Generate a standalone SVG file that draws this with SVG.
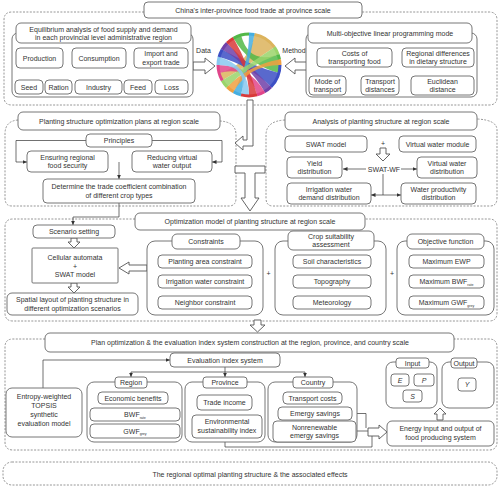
<svg xmlns="http://www.w3.org/2000/svg" width="499" height="486" viewBox="0 0 499 486">
<defs>
<style>
.b{fill:#fff;stroke:#666;stroke-width:0.9}
.d{fill:none;stroke:#8a8a8a;stroke-width:0.9;stroke-dasharray:2 1.4}
.l{fill:none;stroke:#333;stroke-width:0.7}
.h{fill:#fff;stroke:#555;stroke-width:0.9;stroke-linejoin:round}
text{font-family:"Liberation Sans",Arial,sans-serif;font-size:7px;fill:#333;text-anchor:middle}
.sub{font-size:3.6px}
.it{font-style:italic}
.ch{fill-opacity:0.85;stroke:none}
.rg{fill:none;stroke-width:3}
</style>
<marker id="ah" markerWidth="6" markerHeight="6" refX="4.5" refY="3" orient="auto" markerUnits="userSpaceOnUse"><path d="M0,0.9 L4.5,3 L0,5.1Z" fill="#333"/></marker>
</defs>
<rect width="499" height="486" fill="#fff"/>

<!-- dashed regions -->
<g id="regions">
<path class="d" d="M144,12 H12 Q4,12 4,20 V97 Q4,105 12,105 H489 Q497,105 497,97 V20 Q497,12 489,12 H362"/>
<path class="d" d="M18,120 Q5,121 5,134 V198 Q5,206 12,206 H229 Q236,206 236,198 V135 Q236,122 220,121"/>
<path class="d" d="M285,120 Q266,121 266,135 V198 Q266,206 273,206 H490 Q497,206 497,198 V130 Q497,120 477,119"/>
<path class="d" d="M135,219 H13 Q5,219 5,227 V313 Q5,321 13,321 H489 Q497,321 497,313 V227 Q497,219 489,219 H365"/>
<path class="d" d="M45,339 H13 Q5,339 5,347 V442 Q5,450 13,450 H489 Q497,450 497,442 V347 Q497,339 489,339 H454"/>
<rect class="d" x="3" y="462" width="494" height="23" rx="9"/>
</g>

<!-- connectors -->
<g id="connectors">
<path class="l" d="M99,68 V76 M29,76 H172"/>
<path class="l" marker-end="url(#ah)" d="M29,76 V80"/>
<path class="l" marker-end="url(#ah)" d="M59,76 V80"/>
<path class="l" marker-end="url(#ah)" d="M99,76 V80"/>
<path class="l" marker-end="url(#ah)" d="M138,76 V80"/>
<path class="l" marker-end="url(#ah)" d="M172,76 V80"/>
<path class="l" d="M354,67 V71 M328,71 H380"/>
<path class="l" marker-end="url(#ah)" d="M328,71 V76"/>
<path class="l" marker-end="url(#ah)" d="M380,71 V76"/>
<path class="l" marker-end="url(#ah)" d="M440,67 V76"/>
<path class="h" d="M193,62 H205 V58 L215,66 L205,74 V70 H193Z"/>
<path class="h" d="M307,62 H295 V58 L285,66 L295,74 V70 H307Z"/>
<path class="h" d="M247,100 H253 V146 H243 V150 L235,143 L243,136 V140 H247Z"/>
<path class="h" d="M235,166 H265 V173 H255 V198 H259 L250,211 L241,198 H245 V173 H235Z"/>
<path class="l" marker-end="url(#ah)" d="M86,140.5 H16 V162 H27"/>
<path class="l" marker-end="url(#ah)" d="M152,140.5 H222 V162 H212"/>
<path class="l" marker-end="url(#ah)" d="M119,162 V179"/>
<path class="l" marker-end="url(#ah)" d="M119,203 V217 H73 V225"/>
<path class="h" d="M380,148 H386 V154 H390 L383,161 L376,154 H380Z"/>
<path class="l" marker-end="url(#ah)" d="M366,169 H343"/>
<path class="l" marker-end="url(#ah)" d="M401,169 H417"/>
<path class="l" d="M383,174 V195"/>
<path class="l" marker-end="url(#ah)" d="M383,195 H371"/>
<path class="l" marker-end="url(#ah)" d="M383,195 H401"/>
<path class="h" d="M71,238 H77 V242 H80 L74,248 L68,242 H71Z"/>
<path class="h" d="M71,283 H77 V287 H80 L74,293 L68,287 H71Z"/>
<path class="h" d="M147,265 H129 V262 L119,268 L129,274 V271 H147Z"/>
<path class="h" d="M254,320 H261 V325 H265 L257.5,332 L250,325 H254Z"/>
<path class="l" marker-end="url(#ah)" d="M43,388 V360 H170"/>
<path class="l" marker-end="url(#ah)" d="M225,367 V377"/>
<path class="l" d="M131,372 H305"/>
<path class="l" marker-end="url(#ah)" d="M131,372 V377"/>
<path class="l" marker-end="url(#ah)" d="M305,372 V377"/>
<path class="l" d="M352,413.5 H366 V428 M356,431 H368 M225,438 V447 H372 V436"/>
<path class="h" d="M368,428 H379 V425 L387,432 L379,439 V436 H368Z"/>
<path class="h" d="M437,420 H443 V414 H446 L440,408 L434,414 H437Z"/>
</g>

<g id="title"><rect class="b" x="144" y="2" width="218" height="16" rx="4"/><text x="253" y="12.5">China's inter-province food trade at province scale</text></g>

<g id="equilibrium">
<rect class="b" x="12" y="33" width="181" height="64" rx="6"/>
<rect class="b" x="16" y="23" width="175" height="20" rx="5"/>
<text x="103.5" y="31.5">Equilibrium analysis of food supply and demand</text>
<text x="103.5" y="40">in each provincial level administrative region</text>
</g>
<g id="production"><rect class="b" x="16" y="48" width="47" height="20" rx="4"/><text x="39.5" y="60.5">Production</text></g>
<g id="consumption"><rect class="b" x="72" y="48" width="54" height="20" rx="4"/><text x="99" y="60.5">Consumption</text></g>
<g id="import"><rect class="b" x="134" y="48" width="54" height="20" rx="4"/><text x="161" y="56">Import and</text><text x="161" y="64.5">export trade</text></g>
<g id="seed"><rect class="b" x="15" y="80" width="28" height="14" rx="4"/><text x="29" y="89.5">Seed</text></g>
<g id="ration"><rect class="b" x="45" y="80" width="27" height="14" rx="4"/><text x="58.5" y="89.5">Ration</text></g>
<g id="industry"><rect class="b" x="75" y="80" width="47" height="14" rx="4"/><text x="98.5" y="89.5">Industry</text></g>
<g id="feed"><rect class="b" x="124" y="80" width="28" height="14" rx="4"/><text x="138" y="89.5">Feed</text></g>
<g id="loss"><rect class="b" x="155" y="80" width="33" height="14" rx="4"/><text x="171.5" y="89.5">Loss</text></g>

<g id="chord">
<circle cx="249" cy="65" r="31" fill="#fff" stroke="#ccc" stroke-width="0.5"/>
<path class="ch" fill="#dcb35c" d="M254.4,34.5 A31,31 0 0 1 274.4,47.2 Q249,65 222.2,80.5 A31,31 0 0 1 219.1,73 Q249,65 254.4,34.5Z"/>
<path class="ch" fill="#52b848" d="M278.1,54.4 A31,31 0 0 1 278.9,73 Q249,65 233.5,38.2 A31,31 0 0 1 241,35.1 Q249,65 278.1,54.4Z"/>
<path class="ch" fill="#3c4fc4" d="M278.9,73 A31,31 0 0 1 270.9,86.9 Q249,65 219.1,57 A31,31 0 0 1 222.2,49.5 Q249,65 278.9,73Z"/>
<path class="ch" fill="#7040a8" d="M270.9,86.9 A31,31 0 0 1 264.5,91.8 Q249,65 222.2,49.5 A31,31 0 0 1 227.1,43.1 Q249,65 270.9,86.9Z"/>
<path class="ch" fill="#e0458a" d="M264.5,91.8 A31,31 0 0 1 257,94.9 Q249,65 219.1,73 A31,31 0 0 1 218,65 Q249,65 264.5,91.8Z"/>
<path class="ch" fill="#d83a3a" d="M257,94.9 A31,31 0 0 1 249,96 Q249,65 227.1,43.1 A31,31 0 0 1 233.5,38.2 Q249,65 257,94.9Z"/>
<path class="ch" fill="#45aee0" d="M241,94.9 A31,31 0 0 1 233.5,91.8 Q249,65 249,34 A31,31 0 0 1 254.4,34.5 Q249,65 241,94.9Z"/>
<path class="ch" fill="#f0a040" d="M233.5,91.8 A31,31 0 0 1 227.1,86.9 Q249,65 279.5,59.6 A31,31 0 0 1 280,65 Q249,65 233.5,91.8Z"/>
<path class="ch" fill="#9ad46a" d="M227.1,86.9 A31,31 0 0 1 222.2,80.5 Q249,65 274.4,47.2 A31,31 0 0 1 278.1,54.4 Q249,65 227.1,86.9Z"/>
<path class="ch" fill="#88c8f0" d="M218,65 A31,31 0 0 1 219.1,57 Q249,65 249,96 A31,31 0 0 1 241,94.9 Q249,65 218,65Z"/>
<path class="rg" stroke="#dcb35c" d="M254.4,34.5 A31,31 0 0 1 274.4,47.2"/>
<path class="rg" stroke="#9ad46a" d="M274.4,47.2 A31,31 0 0 1 278.1,54.4"/>
<path class="rg" stroke="#52b848" d="M278.1,54.4 A31,31 0 0 1 279.5,59.6"/>
<path class="rg" stroke="#f0a040" d="M279.5,59.6 A31,31 0 0 1 280,65"/>
<path class="rg" stroke="#3c4fc4" d="M280,65 A31,31 0 0 1 270.9,86.9"/>
<path class="rg" stroke="#7040a8" d="M270.9,86.9 A31,31 0 0 1 264.5,91.8"/>
<path class="rg" stroke="#e0458a" d="M264.5,91.8 A31,31 0 0 1 257,94.9"/>
<path class="rg" stroke="#d83a3a" d="M257,94.9 A31,31 0 0 1 241,94.9"/>
<path class="rg" stroke="#45aee0" d="M241,94.9 A31,31 0 0 1 233.5,91.8"/>
<path class="rg" stroke="#f0a040" d="M233.5,91.8 A31,31 0 0 1 227.1,86.9"/>
<path class="rg" stroke="#9ad46a" d="M227.1,86.9 A31,31 0 0 1 222.2,80.5"/>
<path class="rg" stroke="#e0458a" d="M222.2,80.5 A31,31 0 0 1 218,65"/>
<path class="rg" stroke="#88c8f0" d="M218,65 A31,31 0 0 1 219.1,57"/>
<path class="rg" stroke="#3c4fc4" d="M219.1,57 A31,31 0 0 1 222.2,49.5"/>
<path class="rg" stroke="#7040a8" d="M222.2,49.5 A31,31 0 0 1 227.1,43.1"/>
<path class="rg" stroke="#d83a3a" d="M227.1,43.1 A31,31 0 0 1 233.5,38.2"/>
<path class="rg" stroke="#52b848" d="M233.5,38.2 A31,31 0 0 1 249,34"/>
<path class="rg" stroke="#45aee0" d="M249,34 A31,31 0 0 1 254.4,34.5"/>
</g>
<g id="data"><text x="203.5" y="53">Data</text></g>
<g id="method"><text x="294" y="53">Method</text></g>

<g id="multiobjective">
<rect class="b" x="306" y="33" width="171" height="64" rx="6"/>
<rect class="b" x="308" y="23" width="164" height="20" rx="5"/>
<text x="390" y="35.5">Multi-objective linear programming mode</text>
</g>
<g id="costs"><rect class="b" x="317" y="48" width="75" height="19" rx="4"/><text x="354.5" y="55.5">Costs of</text><text x="354.5" y="64">transporting food</text></g>
<g id="regional"><rect class="b" x="402" y="48" width="72" height="19" rx="4"/><text x="438" y="55.5">Regional differences</text><text x="438" y="64">in dietary structure</text></g>
<g id="mode"><rect class="b" x="309" y="76" width="37" height="19" rx="4"/><text x="327.5" y="83.5">Mode of</text><text x="327.5" y="92">transport</text></g>
<g id="distances"><rect class="b" x="361" y="76" width="38" height="19" rx="4"/><text x="380" y="83.5">Transport</text><text x="380" y="92">distances</text></g>
<g id="euclidean"><rect class="b" x="411" y="76" width="63" height="19" rx="4"/><text x="442.5" y="83.5">Euclidean</text><text x="442.5" y="92">distance</text></g>

<g id="plans"><rect class="b" x="18" y="112" width="202" height="18" rx="5"/><text x="119" y="123.5">Planting structure optimization plans at region scale</text></g>
<g id="principles"><rect class="b" x="86" y="134" width="66" height="13" rx="4"/><text x="119" y="143">Principles</text></g>
<g id="ensuring"><rect class="b" x="27" y="151" width="81" height="21" rx="4"/><text x="67.5" y="159.5">Ensuring regional</text><text x="67.5" y="168">food security</text></g>
<g id="reducing"><rect class="b" x="132" y="151" width="80" height="21" rx="4"/><text x="172" y="159.5">Reducing virtual</text><text x="172" y="168">water output</text></g>
<g id="determine"><rect class="b" x="43" y="179" width="152" height="24" rx="4"/><text x="119" y="188.5">Determine the trade coefficient combination</text><text x="119" y="197.5">of different crop types</text></g>

<g id="analysis"><rect class="b" x="285" y="112" width="192" height="18" rx="5"/><text x="381" y="123.5">Analysis of planting structure at region scale</text></g>
<g id="swat"><rect class="b" x="285" y="136" width="82" height="16" rx="4"/><text x="326" y="146.5">SWAT model</text></g>
<g id="plus1"><text x="383" y="146">+</text></g>
<g id="vwmodule"><rect class="b" x="399" y="136" width="77" height="16" rx="4"/><text x="437.5" y="146.5">Virtual water module</text></g>
<g id="swatwf"><text x="384" y="171.5">SWAT-WF</text></g>
<g id="yield"><rect class="b" x="287" y="157" width="55" height="21" rx="4"/><text x="314.5" y="165.5">Yield</text><text x="314.5" y="174">distribution</text></g>
<g id="vwdist"><rect class="b" x="417" y="157" width="60" height="21" rx="4"/><text x="447" y="165.5">Virtual water</text><text x="447" y="174">distribution</text></g>
<g id="irrigation"><rect class="b" x="287" y="183" width="84" height="21" rx="4"/><text x="329" y="191.5">Irrigation water</text><text x="329" y="200">demand distribution</text></g>
<g id="productivity"><rect class="b" x="401" y="183" width="75" height="21" rx="4"/><text x="438.5" y="191.5">Water productivity</text><text x="438.5" y="200">distribution</text></g>

<g id="optimization"><rect class="b" x="135" y="213" width="230" height="17" rx="5"/><text x="250" y="224">Optimization model of planting structure at region scale</text></g>
<g id="scenario"><rect class="b" x="33" y="225" width="82" height="13" rx="4"/><text x="74" y="234">Scenario setting</text></g>
<g id="cellular"><rect class="b" x="32" y="248" width="86" height="35" rx="1"/><text x="75" y="260">Cellular automata</text><text x="75" y="268.5">+</text><text x="75" y="277">SWAT model</text></g>
<g id="spatial"><rect class="b" x="7" y="293" width="131" height="22" rx="5"/><text x="72.5" y="302">Spatial layout of planting structure in</text><text x="72.5" y="310.5">different optimization scenarios</text></g>

<g id="constraints">
<rect class="b" x="147" y="241" width="116" height="74" rx="8"/>
<rect class="b" x="172" y="234" width="68" height="15" rx="5"/><text x="206" y="244">Constraints</text>
</g>
<g id="c1"><rect class="b" x="158" y="255" width="94" height="13" rx="4"/><text x="205" y="264">Planting area constraint</text></g>
<g id="c2"><rect class="b" x="158" y="275" width="94" height="13" rx="4"/><text x="205" y="284">Irrigation water constraint</text></g>
<g id="c3"><rect class="b" x="158" y="296" width="94" height="13" rx="4"/><text x="205" y="305">Neighbor constraint</text></g>
<g id="plus2"><text x="268.5" y="276">+</text></g>
<g id="suitability">
<rect class="b" x="275" y="241" width="111" height="74" rx="8"/>
<rect class="b" x="288" y="231" width="86" height="19" rx="5"/><text x="331" y="238.5">Crop suitability</text><text x="331" y="246.5">assessment</text>
</g>
<g id="s1"><rect class="b" x="293" y="255" width="78" height="13" rx="4"/><text x="332" y="264">Soil characteristics</text></g>
<g id="s2"><rect class="b" x="293" y="275" width="78" height="13" rx="4"/><text x="332" y="284">Topography</text></g>
<g id="s3"><rect class="b" x="293" y="296" width="78" height="13" rx="4"/><text x="332" y="305">Meteorology</text></g>
<g id="plus3"><text x="392" y="276">+</text></g>
<g id="objective">
<rect class="b" x="397" y="241" width="97" height="74" rx="8"/>
<rect class="b" x="407" y="234" width="77" height="15" rx="5"/><text x="445.5" y="244">Objective function</text>
</g>
<g id="o1"><rect class="b" x="409" y="255" width="75" height="13" rx="4"/><text x="446.5" y="264">Maximum EWP</text></g>
<g id="o2"><rect class="b" x="409" y="275" width="75" height="13" rx="4"/><text x="446.5" y="284">Maximum BWF<tspan class="sub" dy="1.5">rate</tspan></text></g>
<g id="o3"><rect class="b" x="409" y="296" width="75" height="13" rx="4"/><text x="446.5" y="305">Maximum GWF<tspan class="sub" dy="1.5">grey</tspan></text></g>

<g id="planopt"><rect class="b" x="45" y="333" width="409" height="19" rx="5"/><text x="250" y="345">Plan optimization &amp; the evaluation index system construction at the region, province, and country scale</text></g>
<g id="evalsys"><rect class="b" x="170" y="353" width="110" height="14" rx="4"/><text x="225" y="362.5">Evaluation index system</text></g>
<g id="entropy"><rect class="b" x="6" y="388" width="76" height="49" rx="6"/><text x="44" y="399">Entropy-weighted</text><text x="44" y="408">TOPSIS</text><text x="44" y="417">synthetic</text><text x="44" y="426">evaluation model</text></g>

<g id="region">
<rect class="b" x="87" y="382" width="95" height="60" rx="7"/>
<rect class="b" x="115" y="377" width="32" height="11" rx="3"/><text x="131" y="385">Region</text>
</g>
<g id="econ"><rect class="b" x="98" y="392" width="70" height="12" rx="4"/><text x="133" y="400.5">Economic benefits</text></g>
<g id="bwf"><rect class="b" x="90" y="408" width="90" height="13" rx="4"/><text x="135" y="417">BWF<tspan class="sub" dy="1.5">rate</tspan></text></g>
<g id="gwf"><rect class="b" x="90" y="424" width="90" height="14" rx="4"/><text x="135" y="433.5">GWF<tspan class="sub" dy="1.5">grey</tspan></text></g>

<g id="province">
<rect class="b" x="185" y="382" width="80" height="60" rx="7"/>
<rect class="b" x="203" y="377" width="44" height="11" rx="3"/><text x="225" y="385">Province</text>
</g>
<g id="trade"><rect class="b" x="197" y="395" width="55" height="15" rx="4"/><text x="224.5" y="405">Trade income</text></g>
<g id="envsust"><rect class="b" x="192" y="415" width="70" height="23" rx="4"/><text x="227" y="424">Environmental</text><text x="227" y="433">sustainability index</text></g>

<g id="country">
<rect class="b" x="268" y="382" width="89" height="60" rx="7"/>
<rect class="b" x="293" y="377" width="40" height="11" rx="3"/><text x="313" y="385">Country</text>
</g>
<g id="transport"><rect class="b" x="283" y="392" width="59" height="12" rx="4"/><text x="312.5" y="400.5">Transport costs</text></g>
<g id="emergy"><rect class="b" x="278" y="407" width="74" height="13" rx="4"/><text x="315" y="416">Emergy savings</text></g>
<g id="nonrenew"><rect class="b" x="273" y="421" width="83" height="21" rx="4"/><text x="314.5" y="429.5">Nonrenewable</text><text x="314.5" y="438">emergy savings</text></g>

<g id="input">
<rect class="b" x="386" y="362" width="51" height="46" rx="7"/>
<rect class="b" x="396" y="358" width="33" height="10" rx="3"/><text x="412.5" y="365.5">Input</text>
</g>
<g id="e"><rect class="b" x="391" y="374" width="18" height="12" rx="3"/><text class="it" x="400" y="382.5">E</text></g>
<g id="p"><rect class="b" x="414" y="374" width="20" height="12" rx="3"/><text class="it" x="424" y="382.5">P</text></g>
<g id="s"><rect class="b" x="403" y="390" width="19" height="12" rx="3"/><text class="it" x="412.5" y="398.5">S</text></g>
<g id="output">
<rect class="b" x="442" y="362" width="52" height="46" rx="7"/>
<rect class="b" x="451" y="358" width="26" height="10" rx="3"/><text x="464" y="365.5">Output</text>
</g>
<g id="y"><rect class="b" x="458" y="378" width="18" height="13" rx="3"/><text class="it" x="467" y="387">Y</text></g>
<g id="energy"><rect class="b" x="387" y="421" width="107" height="25" rx="5"/><text x="440.5" y="431">Energy input and output of</text><text x="440.5" y="440">food producing system</text></g>

<g id="result"><text x="250" y="476.5">The regional optimal planting structure &amp; the associated effects</text></g>
</svg>
